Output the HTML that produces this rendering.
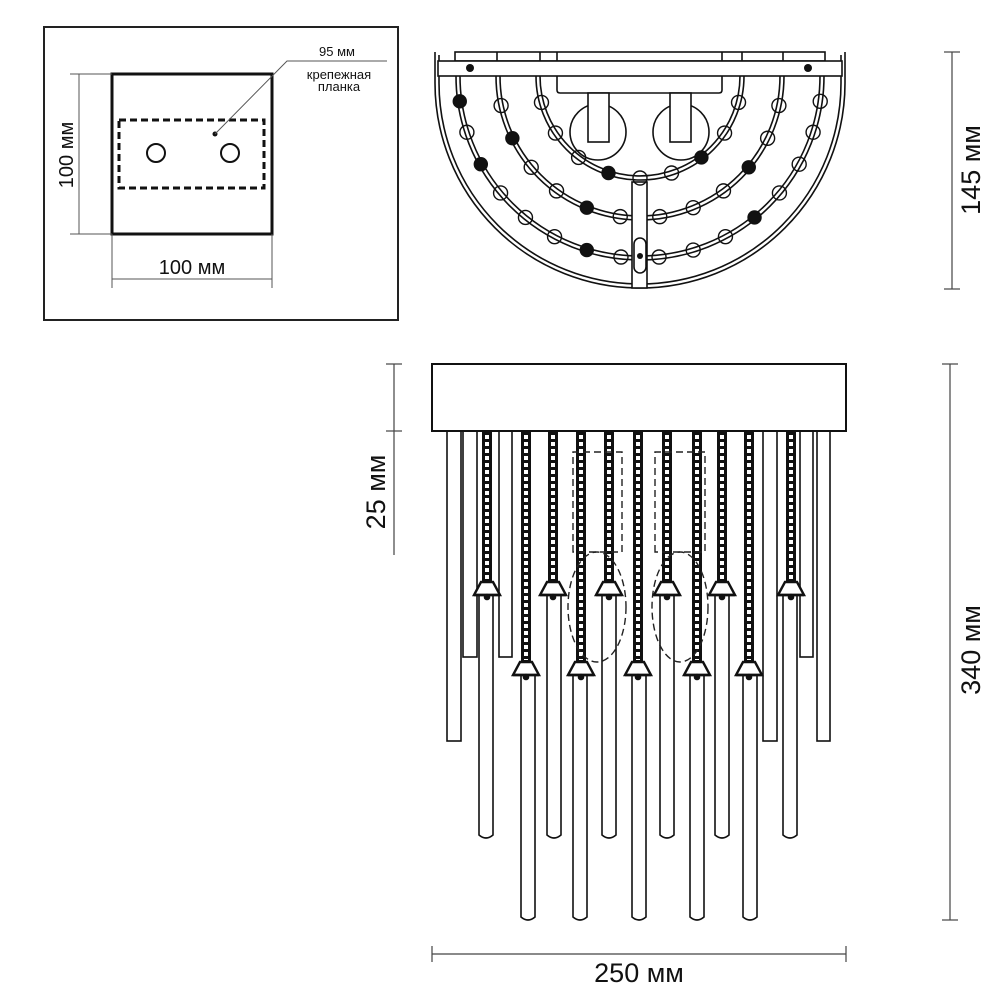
<!DOCTYPE html>
<html><head><meta charset="utf-8"><style>
html,body{margin:0;padding:0;background:#fff}
svg{display:block}
text{font-family:"Liberation Sans",sans-serif;fill:#111}
</style></head><body>
<svg id="s" width="1000" height="1000" viewBox="0 0 1000 1000" xmlns="http://www.w3.org/2000/svg">
<rect width="1000" height="1000" fill="#fff"/>
<rect x="44" y="27" width="354" height="293" fill="none" stroke="#222" stroke-width="2"/>
<rect x="112" y="74" width="160" height="160" fill="none" stroke="#111" stroke-width="3"/>
<rect x="119" y="120" width="145" height="68" fill="none" stroke="#111" stroke-width="3" stroke-dasharray="7 4"/>
<circle cx="156" cy="153" r="9" fill="none" stroke="#111" stroke-width="2"/>
<circle cx="230" cy="153" r="9" fill="none" stroke="#111" stroke-width="2"/>
<circle cx="215" cy="134" r="2.5" fill="#111"/>
<polyline points="215,134 287,61 387,61" fill="none" stroke="#555" stroke-width="1"/>
<text x="337" y="56" font-size="13" text-anchor="middle">95 мм</text>
<text x="339" y="79" font-size="13" text-anchor="middle">крепежная</text>
<text x="339" y="91" font-size="13" text-anchor="middle">планка</text>
<line x1="79" y1="74" x2="79" y2="234" stroke="#555" stroke-width="1"/>
<line x1="70" y1="74" x2="112" y2="74" stroke="#555" stroke-width="1"/>
<line x1="70" y1="234" x2="112" y2="234" stroke="#555" stroke-width="1"/>
<text transform="translate(73,155) rotate(-90)" font-size="20" text-anchor="middle">100 мм</text>
<line x1="112" y1="279" x2="272" y2="279" stroke="#555" stroke-width="1"/>
<line x1="112" y1="234" x2="112" y2="288" stroke="#555" stroke-width="1"/>
<line x1="272" y1="234" x2="272" y2="288" stroke="#555" stroke-width="1"/>
<text x="192" y="274" font-size="20" text-anchor="middle">100 мм</text>

<g fill="none" stroke="#111" stroke-width="1.6">
<path d="M435,52 L435,83 A205,205 0 0 0 845,83 L845,52"/>
<path d="M439,55 L439,83 A201,201 0 0 0 841,83 L841,55"/>
<rect x="455" y="52" width="370" height="9"/>
<line x1="497" y1="52" x2="497" y2="61"/><line x1="540" y1="52" x2="540" y2="61"/><line x1="557" y1="52" x2="557" y2="61"/>
<line x1="722" y1="52" x2="722" y2="61"/><line x1="742" y1="52" x2="742" y2="61"/><line x1="783" y1="52" x2="783" y2="61"/>
<rect x="438" y="61" width="404" height="15" fill="#fff"/>
<path d="M557,76 L557,90 Q557,93 560,93 L719,93 Q722,93 722,90 L722,76"/>
<circle cx="598" cy="132" r="28"/><circle cx="681" cy="132" r="28"/>
<rect x="588" y="93" width="21" height="49" fill="#fff"/>
<rect x="670" y="93" width="21" height="49" fill="#fff"/>
<path d="M536,76 A104,104 0 0 0 744,76"/><path d="M540,76 A100,100 0 0 0 740,76"/>
<path d="M496,76 A144,144 0 0 0 784,76"/><path d="M500,76 A140,140 0 0 0 780,76"/>
<path d="M456,76 A184,184 0 0 0 824,76"/><path d="M460,76 A180,180 0 0 0 820,76"/>
<rect x="632" y="182" width="15" height="106" fill="#fff"/>
<rect x="634" y="238" width="12" height="35" rx="6"/>
</g>
<circle cx="470" cy="68" r="4" fill="#111"/><circle cx="808" cy="68" r="4" fill="#111"/>
<circle cx="640" cy="256" r="3" fill="#111"/>
<g id="beads" fill="#fff" stroke="#111" stroke-width="1.4"></g>
<line x1="952" y1="52" x2="952" y2="289" stroke="#444" stroke-width="1.2"/>
<line x1="944" y1="52" x2="960" y2="52" stroke="#444" stroke-width="1.2"/>
<line x1="944" y1="289" x2="960" y2="289" stroke="#444" stroke-width="1.2"/>
<text transform="translate(980,170) rotate(-90)" font-size="27" text-anchor="middle">145 мм</text>

<g id="front" fill="#fff" stroke="#111" stroke-width="1.6"></g>
<rect x="432" y="364" width="414" height="67" fill="#fff" stroke="#111" stroke-width="2"/>
<g fill="none" stroke="#222" stroke-width="1.4" stroke-dasharray="7 4">
<path d="M573,552 L573,452 L622,452 L622,552 Z"/>
<path d="M655,552 L655,452 L705,452 L705,552 Z"/>
<ellipse cx="597" cy="607" rx="29" ry="55"/>
<ellipse cx="680" cy="607" rx="28" ry="55"/>
</g>
<line x1="394" y1="364" x2="394" y2="555" stroke="#444" stroke-width="1.2"/>
<line x1="386" y1="364" x2="402" y2="364" stroke="#444" stroke-width="1.2"/>
<line x1="386" y1="431" x2="402" y2="431" stroke="#444" stroke-width="1.2"/>
<text transform="translate(385,492) rotate(-90)" font-size="27" text-anchor="middle">25 мм</text>
<line x1="950" y1="364" x2="950" y2="920" stroke="#444" stroke-width="1.2"/>
<line x1="942" y1="364" x2="958" y2="364" stroke="#444" stroke-width="1.2"/>
<line x1="942" y1="920" x2="958" y2="920" stroke="#444" stroke-width="1.2"/>
<text transform="translate(980,650) rotate(-90)" font-size="27" text-anchor="middle">340 мм</text>
<line x1="432" y1="954" x2="846" y2="954" stroke="#444" stroke-width="1.2"/>
<line x1="432" y1="946" x2="432" y2="962" stroke="#444" stroke-width="1.2"/>
<line x1="846" y1="946" x2="846" y2="962" stroke="#444" stroke-width="1.2"/>
<text x="639" y="982" font-size="27" text-anchor="middle">250 мм</text>
</svg>
<script>
var NS="http://www.w3.org/2000/svg";
function el(p,t,a){var e=document.createElementNS(NS,t);for(var k in a)e.setAttribute(k,a[k]);p.appendChild(e);return e;}
var b=document.getElementById('beads');
var arcs=[[102,[15,34,53,72,90,108,127,146,165],[2,5]],[142,[12,26,40,54,68,82,98,112,126,140,154,168],[2,7,10]],[182,[8,18,29,40,51,62,73,84,96,107,118,129,140,151,162,172],[4,9,13,15]]];
arcs.forEach(function(a){a[1].forEach(function(d,i){var r=a[0],t=d*Math.PI/180;var x=640+r*Math.cos(t),y=76+r*Math.sin(t);
 var f=a[2].indexOf(i)>=0;el(b,'circle',{cx:x,cy:y,r:f?6.5:7,fill:f?'#111':'none'});});});
var f=document.getElementById('front');
[[447,461,431,741],[463,477,431,657],[499,512,431,657],[763,777,431,741],[800,813,431,657],[817,830,431,741]].forEach(function(r){el(f,'rect',{x:r[0],y:r[2],width:r[1]-r[0],height:r[3]-r[2]});});
function rod(cx,y1,y2){el(f,'path',{d:'M'+(cx-7)+','+y1+' L'+(cx-7)+','+(y2-3)+' Q'+cx+','+(y2+3)+' '+(cx+7)+','+(y2-3)+' L'+(cx+7)+','+y1});}
[486,554,609,667,722,790].forEach(function(x){rod(x,594,838);});
[528,580,639,697,750].forEach(function(x){rod(x,674,920);});
function chain(x,y2){el(f,'line',{x1:x,y1:432,x2:x,y2:y2,stroke:'#111','stroke-width':10});
 el(f,'line',{x1:x,y1:435,x2:x,y2:y2-2,stroke:'#fff','stroke-width':4,'stroke-dasharray':'4 3'});}
function hook(x,y){el(f,'path',{d:'M'+(x-6)+','+y+' L'+(x+6)+','+y+' L'+(x+13)+','+(y+13)+' L'+(x-13)+','+(y+13)+' Z','stroke-width':2.4});
 el(f,'line',{x1:x-13,y1:y+13,x2:x+13,y2:y+13,'stroke-width':2.5});el(f,'circle',{cx:x,cy:y+15,r:2.5,fill:'#111'});}
[[487,582],[553,582],[609,582],[667,582],[722,582],[791,582],[526,662],[581,662],[638,662],[697,662],[749,662]].forEach(function(c){chain(c[0],c[1]);hook(c[0],c[1]);});
</script>
</body></html>
